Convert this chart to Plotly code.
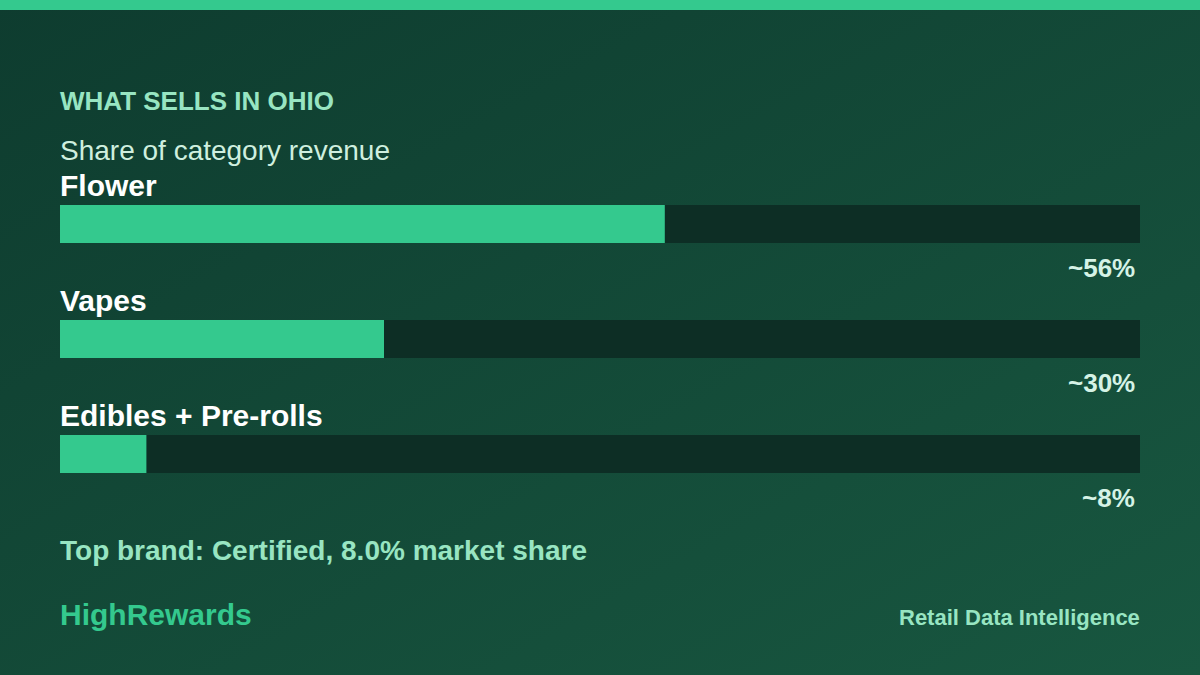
import base64
import plotly.graph_objects as go

# ---- data ----
categories = ["Flower", "Vapes", "Edibles + Pre-rolls"]
shares = [56, 30, 8]
value_labels = ["~56%", "~30%", "~8%"]
track_max = 100

title_text = "WHAT SELLS IN OHIO"
subtitle_text = "Share of category revenue"
footnote_text = "Top brand: Certified, 8.0% market share"
brand_text = "HighRewards"
tagline_text = "Retail Data Intelligence"

# ---- style ----
W, H = 1200, 675
FONT = "Liberation Sans, Arial, Helvetica, sans-serif"
GREEN = "#34C98E"
TRACK = "#0D2E25"
MINT = "#98E5C2"

svg = f"""<svg xmlns='http://www.w3.org/2000/svg' width='{W}' height='{H}'>
<defs><linearGradient id='g' x1='0' y1='0' x2='1' y2='1'>
<stop offset='0' stop-color='#0E3C2F'/><stop offset='1' stop-color='#185740'/>
</linearGradient></defs>
<rect width='{W}' height='{H}' fill='url(#g)'/>
<rect width='{W}' height='10' fill='{GREEN}'/>
</svg>"""
bg_src = "data:image/svg+xml;base64," + base64.b64encode(svg.encode()).decode()

fig = go.Figure()
fig.add_trace(go.Bar(
    y=categories, x=[track_max] * len(categories), orientation="h",
    marker=dict(color=TRACK, line=dict(width=0)), width=0.33,
    hoverinfo="skip", showlegend=False,
))
fig.add_trace(go.Bar(
    y=categories, x=shares, orientation="h",
    marker=dict(color=GREEN, line=dict(width=0)), width=0.33,
    hoverinfo="skip", showlegend=False,
))

# axis placement: row pitch 115px, first bar centre at 224px
top_px, bottom_px = 166.5, 511.5
fig.update_layout(
    width=W, height=H, margin=dict(l=0, r=0, t=0, b=0),
    paper_bgcolor="#13483A", plot_bgcolor="rgba(0,0,0,0)",
    barmode="overlay", hovermode=False,
    xaxis=dict(domain=[60 / W, 1140 / W], range=[0, track_max], visible=False, fixedrange=True),
    yaxis=dict(domain=[1 - bottom_px / H, 1 - top_px / H], categoryorder="array",
               categoryarray=categories, range=[2.5, -0.5], visible=False, fixedrange=True),
    images=[dict(source=bg_src, xref="paper", yref="paper", x=0, y=1, sizex=1, sizey=1,
                 xanchor="left", yanchor="top", sizing="stretch", layer="below")],
)

ann = []
for cat, lab in zip(categories, value_labels):
    ann.append(dict(text=f"<b>{cat}</b>", x=0, y=cat, xref="x", yref="y", xanchor="left",
                    yanchor="middle", yshift=39, xshift=-2, showarrow=False,
                    font=dict(family=FONT, size=30, color="#FFFFFF")))
    ann.append(dict(text=f"<b>{lab}</b>", x=track_max, y=cat, xref="x", yref="y",
                    xanchor="right", yanchor="middle", yshift=-44, xshift=-3, showarrow=False,
                    font=dict(family=FONT, size=26, color="#D5F3E6")))


def paper_text(text, x, y, size, color, bold=True, xanchor="left"):
    ann.append(dict(text=f"<b>{text}</b>" if bold else text, x=x / W, y=1 - y / H,
                    xref="paper", yref="paper", xanchor=xanchor, yanchor="middle",
                    xshift=-2 if xanchor == "left" else 2,
                    showarrow=False, font=dict(family=FONT, size=size, color=color)))


paper_text(title_text, 60, 101, 26, MINT)
paper_text(subtitle_text, 60, 150, 28, "#CFEFDF", bold=False)
paper_text(footnote_text, 60, 550, 28, MINT)
paper_text(brand_text, 60, 614, 30, GREEN)
paper_text(tagline_text, 1140, 617, 22, MINT, xanchor="right")

fig.update_layout(annotations=ann)
fig.write_html("out.html")
